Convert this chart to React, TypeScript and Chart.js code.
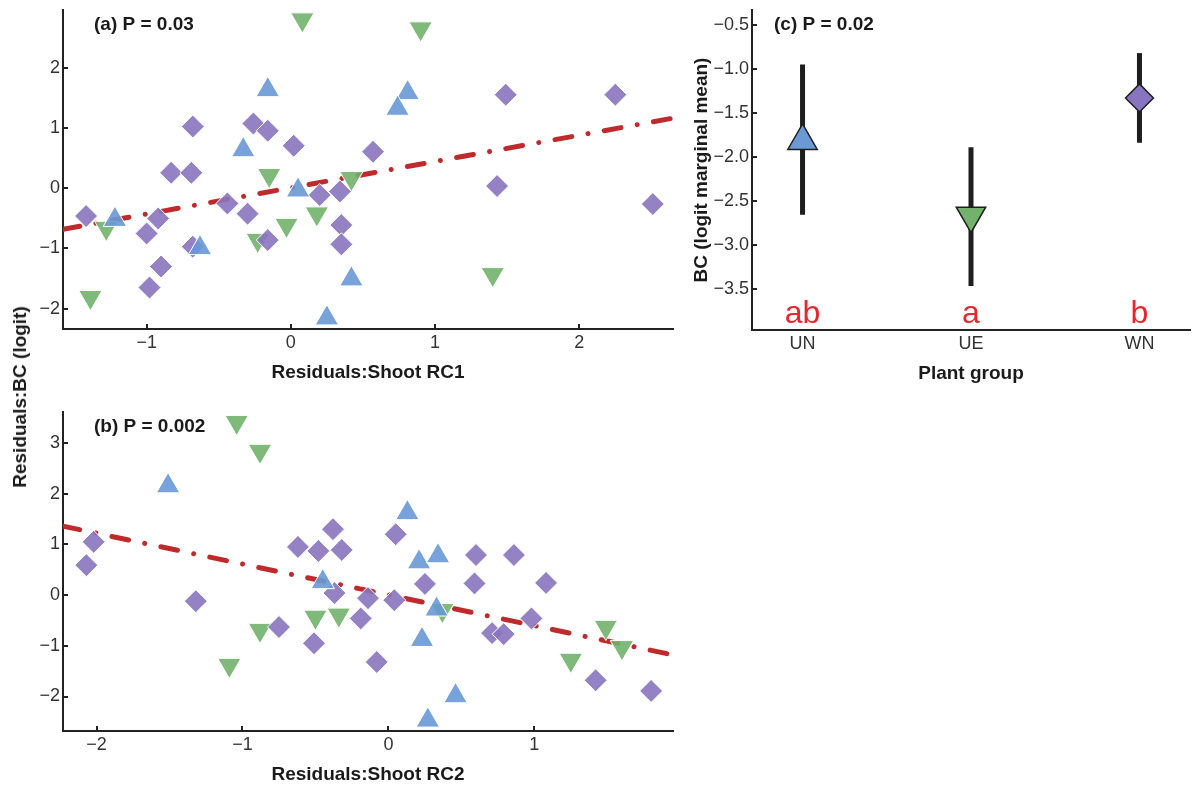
import React, { useEffect, useRef } from "react";
import { Chart, registerables } from "chart.js";

Chart.register(...registerables);

const FONT = "'Liberation Sans', Arial, Helvetica, sans-serif";
const TICK_COLOR = "#333333";
const AXIS_COLOR = "#222222";
const TITLE_COLOR = "#1a1a1a";
const FIT_COLOR = "#bf2a2c";
const LETTER_COLOR = "#e8262d";
const FILL: Record<string, string> = { UN: "rgba(104,153,214,0.9)", UE: "rgba(113,178,108,0.9)", WN: "rgba(137,116,191,0.9)" };
const SOLID: Record<string, string> = { UN: "#6a99d6", UE: "#72b26d", WN: "#8974bf" };
const STYLE: Record<string, string> = { UN: "triangle", UE: "triangle", WN: "rectRot" };
const ROT: Record<string, number> = { UN: 0, UE: 180, WN: 0 };

// ---------- Panel (a): Residuals BC vs Shoot RC1 ----------
const aUNx = [-0.16, -0.33, 0.05, 0.81, 0.74, -1.22, -0.63, 0.25, 0.42];
const aUNy = [1.64, 0.64, -0.03, 1.59, 1.33, -0.52, -0.99, -2.16, -1.51];
const aUEx = [0.08, 0.9, -0.15, 0.42, -1.39, -1.28, -0.03, 0.18, -0.23, 1.4];
const aUEy = [2.81, 2.66, 0.22, 0.17, -1.81, -0.66, -0.61, -0.42, -0.86, -1.43];
const aWNx = [-0.68, -0.26, -0.16, 0.02, -0.83, -0.69, 1.49, 2.25, 0.57, 1.43, 2.51, 0.34, 0.35, 0.35, -1.42, -1.0, -0.92, -0.9, -0.98, -0.44, -0.3, -0.16, -0.68, 0.2];
const aWNy = [1.03, 1.08, 0.96, 0.71, 0.26, 0.26, 1.56, 1.56, 0.61, 0.04, -0.26, -0.05, -0.61, -0.93, -0.46, -0.75, -0.5, -1.3, -1.65, -0.25, -0.42, -0.86, -0.97, -0.11];
const aFitX = [-1.58, 2.65];
const aFitY = [-0.68, 1.17];
const aXTicks = [-1, 0, 1, 2];
const aYTicks = [-2, -1, 0, 1, 2];
const aXRange = [-1.58, 2.65];
const aYRange = [-2.34, 2.97];

// ---------- Panel (b): Residuals BC vs Shoot RC2 ----------
const bUNx = [-1.51, -0.45, 0.13, 0.21, 0.34, 0.33, 0.23, 0.46, 0.27];
const bUNy = [2.15, 0.26, 1.62, 0.65, 0.77, -0.28, -0.88, -1.99, -2.47];
const bUEx = [-1.04, -0.88, -1.09, -0.88, -0.5, -0.34, 0.37, 1.49, 1.6, 1.25];
const bUEy = [3.41, 2.84, -1.38, -0.69, -0.43, -0.39, -0.3, -0.63, -1.03, -1.28];
const bWNx = [-2.07, -2.02, -0.62, -0.48, -0.38, -1.32, -0.75, -0.51, -0.32, 0.05, -0.37, -0.14, 0.04, -0.19, -0.08, 0.25, 0.6, 0.86, 0.59, 1.08, 0.98, 0.71, 0.79, 1.42, 1.8];
const bWNy = [0.59, 1.05, 0.95, 0.87, 1.3, -0.12, -0.63, -0.95, 0.89, 1.2, 0.04, -0.06, -0.1, -0.46, -1.32, 0.22, 0.79, 0.79, 0.23, 0.24, -0.46, -0.75, -0.77, -1.68, -1.89];
const bFitX = [-2.23, 1.95];
const bFitY = [1.36, -1.18];
const bXTicks = [-2, -1, 0, 1];
const bYTicks = [-2, -1, 0, 1, 2, 3];
const bXRange = [-2.23, 1.95];
const bYRange = [-2.68, 3.61];

// ---------- Panel (c): marginal means ----------
const groups = ["UN", "UE", "WN"];
const groupPos = [1, 2, 3];
const cMeans = [-1.82, -2.67, -1.33];
const cLower = [-2.66, -3.47, -1.84];
const cUpper = [-0.95, -1.89, -0.82];
const cLetters = ["ab", "a", "b"];
const cYTicks = [-3.5, -3.0, -2.5, -2.0, -1.5, -1.0, -0.5];
const cXRange = [0.7, 3.3];
const cYRange = [-3.97, -0.33];

const panelLabels = ["(a) P = 0.03", "(b) P = 0.002", "(c) P = 0.02"];

const minus = (s: string) => s.replace("-", "\u2212");

function linScale(min: number, max: number, tickVals: number[], fmt: (v: number) => string, sizeProp: "width" | "height", size: number, titleText?: string, titlePad?: any) {
  return {
    type: "linear",
    min,
    max,
    afterBuildTicks: (s: any) => {
      s.ticks = tickVals.map((v) => ({ value: v }));
    },
    afterFit: (s: any) => {
      s[sizeProp] = size;
      s.paddingLeft = 0;
      s.paddingRight = 0;
      s.paddingTop = 0;
      s.paddingBottom = 0;
    },
    grid: { display: true, drawOnChartArea: false, drawTicks: false },
    border: { display: true, color: AXIS_COLOR, width: 2 },
    ticks: {
      color: TICK_COLOR,
      font: { family: FONT, size: 18 },
      padding: 3,
      autoSkip: false,
      maxRotation: 0,
      callback: (v: any) => fmt(Number(v)),
    },
    title: titleText
      ? { display: true, text: titleText, color: TITLE_COLOR, font: { family: FONT, size: 19, weight: "bold" }, padding: titlePad }
      : { display: false },
  };
}

function decor(cfg: { xTicks: boolean; yTicks: boolean; label: string; labelX: number; labelY: number; letters?: string[]; letterPos?: number[] }) {
  return {
    id: "decor",
    afterDraw(chart: any) {
      const { ctx, chartArea: a, scales } = chart;
      ctx.save();
      ctx.strokeStyle = AXIS_COLOR;
      ctx.lineWidth = 2;
      if (cfg.xTicks) {
        scales.x.ticks.forEach((t: any) => {
          const p = Math.round(scales.x.getPixelForValue(t.value));
          ctx.beginPath();
          ctx.moveTo(p, a.bottom);
          ctx.lineTo(p, a.bottom - 5);
          ctx.stroke();
        });
      }
      if (cfg.yTicks) {
        scales.y.ticks.forEach((t: any) => {
          const p = Math.round(scales.y.getPixelForValue(t.value));
          ctx.beginPath();
          ctx.moveTo(a.left, p);
          ctx.lineTo(a.left + 5, p);
          ctx.stroke();
        });
      }
      ctx.font = `bold 19px ${FONT}`;
      ctx.fillStyle = TITLE_COLOR;
      ctx.textAlign = "left";
      ctx.textBaseline = "middle";
      ctx.fillText(cfg.label, a.left + cfg.labelX, cfg.labelY);
      if (cfg.letters && cfg.letterPos) {
        ctx.font = `32px ${FONT}`;
        ctx.fillStyle = LETTER_COLOR;
        ctx.textAlign = "center";
        ctx.textBaseline = "alphabetic";
        cfg.letters.forEach((l, i) => {
          ctx.fillText(l, scales.x.getPixelForValue(cfg.letterPos![i]), a.bottom - 7);
        });
      }
      ctx.restore();
    },
  };
}

function scatterSet(xs: number[], ys: number[], g: string, order: number) {
  const r = g === "WN" ? 11.5 : 13.5;
  return {
    type: "scatter",
    data: xs.map((x, i) => ({ x, y: ys[i] })),
    pointStyle: STYLE[g],
    pointRotation: ROT[g],
    pointRadius: r,
    pointHoverRadius: r,
    backgroundColor: FILL[g],
    borderColor: "#ffffff",
    borderWidth: 1,
    order,
  };
}

function fitSet(xs: number[], ys: number[]) {
  return {
    type: "line",
    data: xs.map((x, i) => ({ x, y: ys[i] })),
    showLine: true,
    borderColor: FIT_COLOR,
    borderWidth: 5,
    borderDash: [17, 16.5, 0.01, 16.5],
    borderCapStyle: "round",
    pointRadius: 0,
    fill: false,
    order: 10,
  };
}

const baseOpts = {
  responsive: false,
  animation: false,
  devicePixelRatio: 1,
  events: [],
  plugins: { legend: { display: false }, tooltip: { enabled: false } },
};

const numFmt = (v: number) => minus(String(v));

function makeScatterPanel(
  UNx: number[], UNy: number[], UEx: number[], UEy: number[], WNx: number[], WNy: number[],
  fitX: number[], fitY: number[], xR: number[], yR: number[], xT: number[], yT: number[],
  xTitle: string, xH: number, titlePadBottom: number, padTop: number, label: string, labelY: number
) {
  return {
    type: "scatter",
    data: {
      datasets: [
        fitSet(fitX, fitY),
        scatterSet(UEx, UEy, "UE", 3),
        scatterSet(WNx, WNy, "WN", 2),
        scatterSet(UNx, UNy, "UN", 1),
      ],
    },
    options: {
      ...baseOpts,
      layout: { autoPadding: false, padding: { left: 0, right: 7, top: padTop, bottom: 0 } },
      scales: {
        x: linScale(xR[0], xR[1], xT, numFmt, "height", xH, xTitle, { top: 0, bottom: titlePadBottom }),
        y: linScale(yR[0], yR[1], yT, numFmt, "width", 63),
      },
    },
    plugins: [decor({ xTicks: true, yTicks: true, label, labelX: 31, labelY })],
  };
}

const makeA = () =>
  makeScatterPanel(aUNx, aUNy, aUEx, aUEy, aWNx, aWNy, aFitX, aFitY, aXRange, aYRange, aXTicks, aYTicks,
    "Residuals:Shoot RC1", 71, 15.6, 10, panelLabels[0], 25);

const makeB = () =>
  makeScatterPanel(bUNx, bUNy, bUEx, bUEy, bWNx, bWNy, bFitX, bFitY, bXRange, bYRange, bXTicks, bYTicks,
    "Residuals:Shoot RC2", 56, 0.6, 22, panelLabels[1], 37);

const makeC = () => ({
  type: "scatter",
  data: {
    datasets: [
      ...groups.map((g, i) => ({
        type: "line",
        data: [
          { x: groupPos[i], y: cLower[i] },
          { x: groupPos[i], y: cUpper[i] },
        ],
        showLine: true,
        borderColor: "#1e1e1e",
        borderWidth: 5,
        borderCapStyle: "butt",
        pointRadius: 0,
        fill: false,
        order: 5,
      })),
      {
        type: "scatter",
        data: groups.map((g, i) => ({ x: groupPos[i], y: cMeans[i] })),
        pointStyle: groups.map((g) => STYLE[g]),
        pointRotation: groups.map((g) => ROT[g]),
        pointRadius: groups.map((g) => (g === "WN" ? 14 : 17)),
        pointHoverRadius: groups.map((g) => (g === "WN" ? 14 : 17)),
        backgroundColor: groups.map((g) => SOLID[g]),
        borderColor: "#1e1e1e",
        borderWidth: 1.5,
        order: 1,
      },
    ],
  },
  options: {
    ...baseOpts,
    layout: { autoPadding: false, padding: { left: 0, right: 2, top: 10, bottom: 0 } },
    scales: {
      x: linScale(cXRange[0], cXRange[1], groupPos, (v) => groups[groupPos.indexOf(v)] ?? "", "height", 70, "Plant group", { top: 0, bottom: 14.6 }),
      y: linScale(cYRange[0], cYRange[1], cYTicks, (v) => minus(v.toFixed(1)), "width", 72, "BC (logit marginal mean)", { top: 10, bottom: 0 }),
    },
  },
  plugins: [decor({ xTicks: false, yTicks: true, label: panelLabels[2], labelX: 22, labelY: 25, letters: cLetters, letterPos: groupPos })],
});

function ChartCanvas({ make, left, top, width, height }: { make: () => any; left: number; top: number; width: number; height: number }) {
  const ref = useRef<HTMLCanvasElement | null>(null);
  useEffect(() => {
    const chart = new Chart(ref.current as HTMLCanvasElement, make() as any);
    return () => chart.destroy();
  }, []);
  return <canvas ref={ref} width={width} height={height} style={{ position: "absolute", left, top, width, height }} />;
}

export default function App() {
  return (
    <div style={{ position: "absolute", left: 0, top: 0, width: 1192, height: 787, background: "#ffffff", overflow: "hidden" }}>
      <ChartCanvas make={makeA} left={0} top={0} width={680} height={400} />
      <ChartCanvas make={makeB} left={0} top={390} width={680} height={397} />
      <ChartCanvas make={makeC} left={680} top={0} width={512} height={400} />
      <div
        style={{
          position: "absolute",
          left: 20,
          top: 397,
          transform: "translate(-50%, -50%) rotate(-90deg)",
          font: `bold 19px ${FONT}`,
          color: TITLE_COLOR,
          whiteSpace: "nowrap",
        }}
      >
        Residuals:BC (logit)
      </div>
    </div>
  );
}
